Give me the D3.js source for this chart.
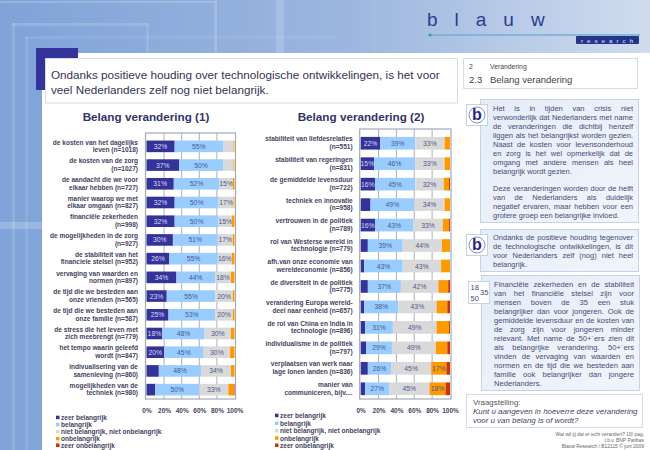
<!DOCTYPE html>
<html><head><meta charset="utf-8">
<script src="https://cdn.jsdelivr.net/npm/d3@7"></script>
<style>html,body{margin:0;padding:0;background:#fff;overflow:hidden}svg{display:block}text{font-family:"Liberation Sans",Arial,sans-serif}</style>
</head><body><svg id="c" width="650" height="450"></svg>
<script>
const seriesNames = ["zeer belangrijk","belangrijk","niet belangrijk, niet onbelangrijk","onbelangrijk","zeer onbelangrijk"];
const seriesColors = ["#333399","#99ccff","#d9d9d9","#ff9900","#cc3300"];
const tickValues = [0,20,40,60,80,100];

const categories1 = ["de kosten van het dagelijks|leven (n=1018)","de kosten van de zorg|(n=1027)","de aandacht die we voor|elkaar hebben (n=727)","manier waarop we met|elkaar omgaan (n=827)","financiële zekerheden|(n=998)","de mogelijkheden in de zorg|(n=927)","de stabiliteit van het|financiele stelsel (n=952)","vervaging van waarden en|normen (n=897)","de tijd die we besteden aan|onze vrienden (n=565)","de tijd die we besteden aan|onze familie (n=587)","de stress die het leven met|zich meebrengt (n=779)","het tempo waarin geleefd|wordt (n=847)","indivualisering van de|samenleving (n=860)","mogelijkheden van de|techniek (n=980)"];
const zeer1  = [32,37,31,32,32,30,26,34,23,25,18,20,14,10];
const bel1   = [55,50,52,50,50,51,55,44,55,53,48,45,48,50];
const niet1  = [12,12,15,17,15,17,16,18,20,20,30,30,34,33];
const onb1   = [1,1,2,1,3,2,3,4,2,2,4,5,4,6];
const zeerOn1= [0,0,0,0,0,0,0,0,0,0,0,0,0,1];

const categories2 = ["stabiliteit van liefdesrelaties|(n=551)","stabiliteit van regeringen|(n=831)","de gemiddelde levensduur|(n=722)","techniek en innovatie|(n=958)","vertrouwen in de politiek|(n=789)","rol van Westerse wereld in|technologie (n=779)","afh.van onze economie van|wereldeconomie (n=856)","de diversiteit in de politiek|(n=775)","verandering Europa wereld-|deel naar eenheid (n=657)","de rol van China en India in|technologie (n=896)","individualisme in de politiek|(n=797)","verplaatsen van werk naar|lage lonen landen (n=836)","manier van|communiceren, bijv...."];
const zeer2  = [22,15,16,11,16,8,4,8,4,5,6,8,5];
const bel2   = [39,46,45,49,43,39,43,37,38,31,29,26,27];
const niet2  = [33,33,32,34,33,44,43,42,43,49,49,45,45];
const onb2   = [6,6,6,6,7,9,10,11,12,14,13,17,18];
const zeerOn2= [0,0,1,0,1,0,0,2,3,1,3,4,5];

const titleLines = ["Ondanks positieve houding over technologische ontwikkelingen, is het voor","veel Nederlanders zelf nog niet belangrijk."];
const para1 = ["Het is in tijden van crisis niet","verwonderlijk dat Nederlanders met name","de veranderingen die dichtbij henzelf","liggen als het belangrijkst worden gezien.","Naast de kosten voor levensonderhoud","en zorg is het wel opmerkelijk dat de","omgang met andere mensen als heel","belangrijk wordt gezien."];
const para2 = ["Deze veranderingen worden door de helft","van de Nederlanders als duidelijk","negatief ervaren, maar hebben voor een","grotere groep een belangrijke invloed."];
const para3 = ["Ondanks de positieve houding tegenover","de technologische ontwikkelingen, is dit","voor Nederlanders zelf (nog) niet heel","belangrijk."];
const para4 = ["Financiële zekerheden en de stabiliteit","van het financiële stelsel zijn voor","mensen boven de 35 een stuk","belangrijker dan voor jongeren. Ook de","gemiddelde levensduur en de kosten van","de zorg zijn voor jongeren minder","relevant. Met name de 50+´ers zien dit","als belangrijke verandering. 50+´ers","vinden de vervaging van waarden en","normen en de tijd die we besteden aan","familie ook belangrijker dan jongere","Nederlanders."];
const footer = ["Wat wil jij dat er echt verandert? 10/ pag.","t.b.v. BNP Paribas","Blauw Research / B12115 © juni 2009"];

const svg = d3.select("#c");
const defs = svg.append("defs");
const g = defs.append("linearGradient").attr("id","bg").attr("x1",0).attr("x2",1).attr("y1",0).attr("y2",0);
g.append("stop").attr("offset",0).attr("stop-color","#7fa3d8");
g.append("stop").attr("offset",.55).attr("stop-color","#9db7df");
g.append("stop").attr("offset",1).attr("stop-color","#d0dcee");
const pg = defs.append("linearGradient").attr("id","panel").attr("x1",0).attr("x2",1).attr("y1",0).attr("y2",1);
pg.append("stop").attr("offset",0).attr("stop-color","#e4edf8");
pg.append("stop").attr("offset",1).attr("stop-color","#f0f5fb");

svg.append("rect").attr("width",650).attr("height",450).attr("fill","url(#bg)");
// decorative bands in the background
const deco = svg.append("g").attr("fill","#fff");
[[0,1,215,2,.18],[214,0,3,53,.14],[12,23,136,3,.15],[12,23,3,427,.13],[146,23,3,30,.12],[25,37,3,413,.1],[25,36,310,3,.08],[276,0,8,53,.16],[0,222,42,7,.2],[374,0,1,53,.1]]
  .forEach(r=>deco.append("rect").attr("x",r[0]).attr("y",r[1]).attr("width",r[2]).attr("height",r[3]).attr("opacity",r[4]));
svg.append("rect").attr("x",42).attr("y",53).attr("width",608).attr("height",397).attr("fill","#fff");

// logo
svg.append("text").attr("x",427).attr("y",26).attr("font-size",19).attr("fill","#2a3c8c").attr("letter-spacing",17).text("blauw");
svg.append("line").attr("x1",430).attr("x2",640).attr("y1",35).attr("y2",35).attr("stroke","#6fb0d6").attr("stroke-width",1.3);
svg.append("circle").attr("cx",430).attr("cy",35).attr("r",1.5).attr("fill","#3f8fc0");
svg.append("rect").attr("x",576).attr("y",36).attr("width",63).attr("height",8).attr("rx",1).attr("fill","#26358c");
svg.append("text").attr("x",581).attr("y",42.5).attr("font-size",6.2).attr("fill","#dfe8f5").attr("letter-spacing",4).text("research");

// title block
svg.append("rect").attr("x",36).attr("y",48).attr("width",42).attr("height",42).attr("fill","#333399");
svg.append("rect").attr("x",45.5).attr("y",58.5).attr("width",412).attr("height",44.5).attr("fill","#fff").attr("stroke","#d3dce8");
svg.selectAll(".tl").data(titleLines).join("text").attr("class","tl").attr("x",51).attr("y",(d,i)=>79+i*14.5).attr("font-size",11.7).attr("fill","#333355").text(d=>d);

// nav block
svg.append("rect").attr("x",463.5).attr("y",58.5).attr("width",174).attr("height",30).attr("fill","#fff").attr("stroke","#d3dce8");
const nav=[[469,69,"2",6.8],[490,69,"Verandering",6.8],[469,83,"2.3",9.5],[490,83,"Belang verandering",9.5]];
nav.forEach(n=>svg.append("text").attr("x",n[0]).attr("y",n[1]).attr("font-size",n[3]).attr("fill","#444").text(n[2]));

function chart(title,cx,cats,series,x0,x1,frameTop,labelX,legendX,legendY){
  const x=d3.scaleLinear().domain([0,100]).range([x0,x1]);
  const barTop = frameTop+4;
  const y=d3.scaleBand().domain(cats).range([barTop,399]).paddingInner(0.38).paddingOuter(0.19);
  const rows=cats.map((c,i)=>{const o={cat:c};series.forEach((s,k)=>o[k]=s[i]);return o;});
  const stack=d3.stack().keys(d3.range(5))(rows);
  svg.append("text").attr("x",cx).attr("y",121).attr("text-anchor","middle").attr("font-size",11.7).attr("font-weight","bold").attr("fill","#333366").text(title);
  const f=svg.append("g");
  f.selectAll("line").data(tickValues.slice(1,-1)).join("line").attr("x1",d=>x(d)).attr("x2",d=>x(d)).attr("y1",frameTop).attr("y2",399).attr("stroke","#9a9aa4").attr("stroke-width",.8);
  f.append("rect").attr("x",x0-1).attr("y",frameTop).attr("width",x1-x0+2).attr("height",399-frameTop).attr("fill","none").attr("stroke","#a4a8b8").attr("stroke-width",1.2);
  stack.forEach((layer,k)=>{
    const gg=svg.append("g");
    gg.selectAll("rect").data(layer).join("rect").attr("x",d=>x(d[0])).attr("width",d=>x(d[1])-x(d[0])).attr("y",d=>y(d.data.cat)).attr("height",y.bandwidth()).attr("fill",seriesColors[k]);
    gg.selectAll("text").data(layer.filter(d=>d[1]-d[0]>=15)).join("text").attr("x",d=>x((d[0]+d[1])/2)).attr("y",d=>y(d.data.cat)+y.bandwidth()/2+2.5).attr("text-anchor","middle").attr("font-size",6.8).attr("fill",k===0?"#d8dcf4":"#4a5a8c").text(d=>(d[1]-d[0])+"%");
  });
  const lab=svg.append("g");
  cats.forEach(c=>{
    const parts=c.split("|"), m=y(c)+y.bandwidth()/2;
    parts.forEach((p,i)=>lab.append("text").attr("x",labelX).attr("y",m+(i-.5)*7.7+2).attr("text-anchor","end").attr("font-size",6.55).attr("font-weight","bold").attr("fill","#44445f").text(p));
  });
  const axis=svg.append("g").attr("transform","translate(0,412.5)").call(d3.axisBottom(x).tickValues(tickValues).tickFormat(d=>d+"%").tickSize(0).tickPadding(0));
  axis.select(".domain").remove();
  axis.selectAll("text").attr("font-size",6.5).attr("fill","#44445f").attr("font-weight","bold").attr("dy",0).attr("y",0);
  seriesNames.forEach((n,k)=>{
    svg.append("rect").attr("x",legendX-5).attr("y",legendY[k]-2).attr("width",3.5).attr("height",3.5).attr("fill",seriesColors[k]);
    svg.append("text").attr("x",legendX).attr("y",legendY[k]+2.4).attr("font-size",6.55).attr("font-weight","bold").attr("fill","#44445f").text(n);
  });
}
chart("Belang verandering (1)",146,categories1,[zeer1,bel1,niet1,onb1,zeerOn1],146.5,234.5,133,138,61,[417.7,424.9,431.9,438.9,445.5]);
chart("Belang verandering (2)",361,categories2,[zeer2,bel2,niet2,onb2,zeerOn2],360.7,450,129,352.7,280,[415.7,423.5,431,438.3,445.5]);

// right column panels
function panel(x,y,w,h){svg.append("rect").attr("x",x+.5).attr("y",y+.5).attr("width",w).attr("height",h).attr("fill","url(#panel)").attr("stroke","#c4d4e4");}
function justified(lines,x,w,y0,step,fs,lastLeft){
  lines.forEach((l,i)=>{
    const t=svg.append("text").attr("x",x).attr("y",y0+i*step).attr("font-size",fs).attr("fill","#4a4a78").text(l);
    if(i===lines.length-1&&lastLeft) return;
    const gaps=l.split(" ").length-1, len=t.node().getComputedTextLength();
    if(gaps>0) t.style("word-spacing",((w-len)/gaps)+"px");
  });
}
function bIcon(x,y,w,h){
  svg.append("rect").attr("x",x+.5).attr("y",y+.5).attr("width",w).attr("height",h).attr("fill","#fff").attr("stroke","#c4d4e4");
  svg.append("circle").attr("cx",x+w/2+.5).attr("cy",y+h/2+.5).attr("r",8).attr("fill","#fff").attr("stroke","#8f8fc8").attr("stroke-width",1);
  svg.append("text").attr("x",x+w/2+.5).attr("y",y+h/2+5.5).attr("text-anchor","middle").attr("font-size",16).attr("font-weight","bold").attr("fill","#26268c").text("b");
}
panel(480,99,158,123);
justified(para1,493,140,111,8.97,7.5,true);
justified(para2,493,140,191,9.1,7.5,true);
bIcon(466,104,21,21);
panel(480,229,158,42);
justified(para3,493,140,240,9,7.5,true);
bIcon(466,234,21,21);
panel(481,275,158,115);
justified(para4,494,140,286.7,9.05,7.6,true);
svg.append("rect").attr("x",468.5).attr("y",281.5).attr("width",21).attr("height",22).attr("fill","#fff").attr("stroke","#c4d4e4");
[[470.5,290,"18"],[480,295,"35"],[470.5,301,"50"]].forEach(n=>svg.append("text").attr("x",n[0]).attr("y",n[1]).attr("font-size",7.5).attr("fill","#4a4a78").text(n[2]));

svg.append("rect").attr("x",466.5).attr("y",394.5).attr("width",176).attr("height",33).attr("fill","#fff").attr("stroke","#d3dce8");
svg.append("text").attr("x",473).attr("y",405).attr("font-size",7.9).attr("fill","#555").text("Vraagstelling:");
svg.append("text").attr("x",473).attr("y",414).attr("font-size",7.9).attr("font-style","italic").attr("fill","#444466").text("Kunt u aangeven in hoeverre deze verandering");
svg.append("text").attr("x",473).attr("y",423).attr("font-size",7.9).attr("font-style","italic").attr("fill","#444466").text("voor u van belang is of wordt?");
svg.selectAll(".ft").data(footer).join("text").attr("class","ft").attr("x",644).attr("y",(d,i)=>435.5+i*6).attr("text-anchor","end").attr("font-size",4.9).attr("fill","#666").text(d=>d);
</script></body></html>
